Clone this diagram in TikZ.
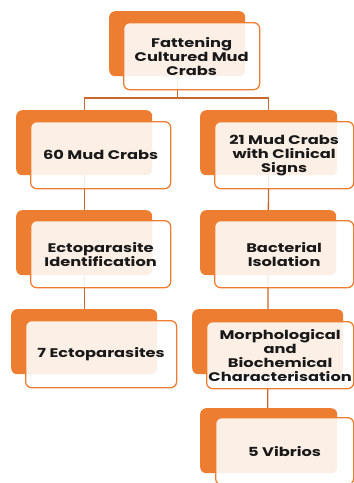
\documentclass[tikz,border=0pt]{standalone}
\usepackage{fontspec}
\setmainfont{Poppins}[FakeStretch=1.3]
\usetikzlibrary{backgrounds}
\definecolor{crabor}{HTML}{ED7D31}
\definecolor{linkor}{HTML}{C8682E}
\tikzset{
  backbox/.style={fill=crabor,rounded corners=6pt,anchor=north west,minimum height=65pt,inner sep=0pt},
  frontbox/.style={draw=crabor,line width=1.3pt,fill=white,fill opacity=.88,text opacity=1,
    rounded corners=6pt,anchor=north west,minimum height=67pt,inner sep=0pt,align=center,
    font=\bfseries\fontsize{12.5}{14}\selectfont,text=black!90},
  link/.style={draw=linkor,line width=1.3pt}
}
\begin{document}
\begin{tikzpicture}[x=1pt,y=-1pt]
  \useasboundingbox (0,0) rectangle (354,483);
  % top
  \node[backbox,minimum width=136pt] (b-top) at (109,11) {};
  \node[frontbox,minimum width=136pt] (f-top) at (123,22) {Fattening\\Cultured Mud\\Crabs};
  % left column
  \node[backbox,minimum width=136pt] (b-crabs) at (16,110) {};
  \node[frontbox,minimum width=140pt] (f-crabs) at (30,121) {60 Mud Crabs};
  \node[backbox,minimum width=136pt] (b-ident) at (16,210) {};
  \node[frontbox,minimum width=140pt] (f-ident) at (30,220) {Ectoparasite\\Identification};
  \node[backbox,minimum width=146pt] (b-ecto) at (11,309) {};
  \node[frontbox,minimum width=151pt] (f-ecto) at (25,320) {7 Ectoparasites};
  % right column
  \node[backbox,minimum width=137pt] (b-signs) at (200,110) {};
  \node[frontbox,minimum width=139pt] (f-signs) at (214,121) {21 Mud Crabs\\with Clinical\\Signs};
  \node[backbox,minimum width=136pt] (b-isol) at (200,210) {};
  \node[frontbox,minimum width=139pt] (f-isol) at (214,220) {Bacterial\\Isolation};
  \node[backbox,minimum width=151pt] (b-char) at (192,309) {};
  \node[frontbox,minimum width=147pt] (f-char) at (206,321) {Morphological\\and\\Biochemical\\Characterisation};
  \node[backbox,minimum width=137pt] (b-vib) at (200,408) {};
  \node[frontbox,minimum width=138pt] (f-vib) at (215,417) {5 Vibrios};
  % connectors
  \begin{scope}[on background layer]
    \coordinate (split) at (b-top.center |- 0,98);
    \draw[link] (b-top.center) -- (split);
    \draw[link] (split) -| (b-crabs.center);
    \draw[link] (split) -| (b-signs.center);
    \draw[link] (b-crabs.center) -- (b-ident.center) -- (b-ecto.center);
    \draw[link] (b-signs.center) -- (b-isol.center) -- (b-char.center |- b-vib.center);
  \end{scope}
\end{tikzpicture}
\end{document}
